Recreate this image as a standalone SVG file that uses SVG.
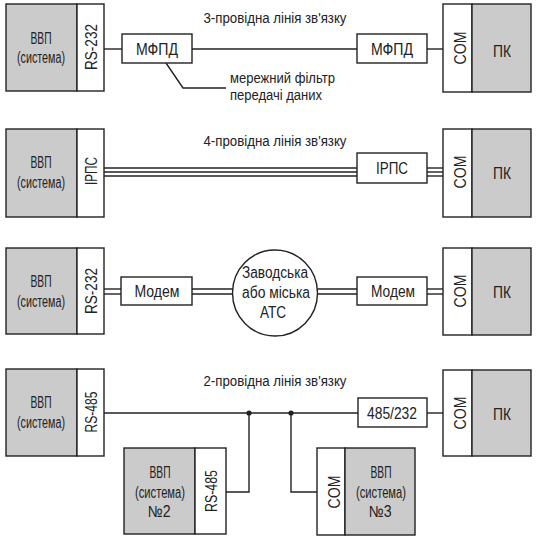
<svg xmlns="http://www.w3.org/2000/svg" width="538" height="542" viewBox="0 0 538 542">
<style>
.box{fill:#fff;stroke:#222;stroke-width:1.4}
.gray{fill:#cbcbcb;stroke:#222;stroke-width:1.4}
.ln{fill:none;stroke:#222;stroke-width:1.4}
text{font-family:"Liberation Sans",Arial,sans-serif;fill:#222;text-anchor:middle}
.t{font-size:16px}
.r{font-size:16px}
.v{font-size:17px}
.s{font-size:14px}
</style>
<rect width="538" height="542" fill="#fff"/>
<g id="connectors">
<line class="ln" x1="104" y1="49" x2="122" y2="49"/>
<line class="ln" x1="192" y1="49" x2="357" y2="49"/>
<line class="ln" x1="427" y1="49" x2="443" y2="49"/>
<polyline class="ln" points="166,63 183,88 226,88"/>
<g class="ln">
<line x1="104" y1="168" x2="357" y2="168"/><line x1="104" y1="172" x2="357" y2="172"/><line x1="104" y1="176" x2="357" y2="176"/>
<line x1="427" y1="168" x2="443" y2="168"/><line x1="427" y1="172" x2="443" y2="172"/><line x1="427" y1="176" x2="443" y2="176"/>
<line x1="104" y1="289" x2="121" y2="289"/><line x1="104" y1="294" x2="121" y2="294"/>
<line x1="192" y1="289" x2="233" y2="289"/><line x1="192" y1="294" x2="233" y2="294"/>
<line x1="317" y1="289" x2="357" y2="289"/><line x1="317" y1="294" x2="357" y2="294"/>
<line x1="427" y1="289" x2="443" y2="289"/><line x1="427" y1="294" x2="443" y2="294"/>
</g>
<line class="ln" x1="104" y1="413" x2="358" y2="413"/>
<line class="ln" x1="427" y1="413" x2="443" y2="413"/>
<polyline class="ln" points="249,413 249,492 226,492"/>
<polyline class="ln" points="291,413 291,492 317,492"/>
<circle cx="249" cy="413" r="2.6" fill="#222"/>
<circle cx="291" cy="413" r="2.6" fill="#222"/>
</g>
<g id="labels">
<text class="s" x="275" y="23" textLength="143" lengthAdjust="spacingAndGlyphs">3-провідна лінія зв'язку</text>
<text class="s" x="275" y="146" textLength="143" lengthAdjust="spacingAndGlyphs">4-провідна лінія зв'язку</text>
<text class="s" x="275" y="386" textLength="143" lengthAdjust="spacingAndGlyphs">2-провідна лінія зв'язку</text>
<text class="s" x="230" y="83" style="text-anchor:start" textLength="105" lengthAdjust="spacingAndGlyphs">мережний фільтр</text>
<text class="s" x="230" y="100" style="text-anchor:start" textLength="92" lengthAdjust="spacingAndGlyphs">передачі даних</text>
</g>
<g id="vvp1">
<rect class="gray" x="6" y="4" width="71" height="87"/><rect class="box" x="77" y="4" width="27" height="87"/>
<text class="t" x="41" y="44" textLength="21" lengthAdjust="spacingAndGlyphs">ВВП</text><text class="t" x="41" y="63" textLength="48" lengthAdjust="spacingAndGlyphs">(система)</text>
<text class="v" transform="translate(97,47) rotate(-90)" textLength="46" lengthAdjust="spacingAndGlyphs">RS-232</text>
</g>
<g id="mfpd1"><rect class="box" x="122" y="34" width="70" height="29"/><text class="r" x="157" y="55" textLength="42" lengthAdjust="spacingAndGlyphs">МФПД</text></g>
<g id="mfpd2"><rect class="box" x="357" y="34" width="70" height="29"/><text class="r" x="392" y="55" textLength="42" lengthAdjust="spacingAndGlyphs">МФПД</text></g>
<g id="pk1">
<rect class="box" x="443" y="4" width="29" height="88"/><rect class="gray" x="472" y="4" width="59" height="88"/>
<text class="r" transform="translate(466,48) rotate(-90)" textLength="33" lengthAdjust="spacingAndGlyphs">COM</text>
<text class="r" x="502" y="57" textLength="18" lengthAdjust="spacingAndGlyphs">ПК</text>
</g>
<g id="vvp2">
<rect class="gray" x="6" y="129" width="71" height="88"/><rect class="box" x="77" y="129" width="27" height="88"/>
<text class="t" x="41" y="168" textLength="21" lengthAdjust="spacingAndGlyphs">ВВП</text><text class="t" x="41" y="188" textLength="48" lengthAdjust="spacingAndGlyphs">(система)</text>
<text class="v" transform="translate(97,171) rotate(-90)" textLength="28" lengthAdjust="spacingAndGlyphs">ІРПС</text>
</g>
<g id="irps"><rect class="box" x="357" y="153" width="70" height="30"/><text class="r" x="392" y="174" textLength="32" lengthAdjust="spacingAndGlyphs">ІРПС</text></g>
<g id="pk2">
<rect class="box" x="443" y="129" width="29" height="88"/><rect class="gray" x="472" y="129" width="59" height="88"/>
<text class="r" transform="translate(466,172) rotate(-90)" textLength="33" lengthAdjust="spacingAndGlyphs">COM</text>
<text class="r" x="502" y="179" textLength="18" lengthAdjust="spacingAndGlyphs">ПК</text>
</g>
<g id="vvp3">
<rect class="gray" x="6" y="248" width="71" height="86"/><rect class="box" x="77" y="248" width="27" height="86"/>
<text class="t" x="41" y="287" textLength="21" lengthAdjust="spacingAndGlyphs">ВВП</text><text class="t" x="41" y="307" textLength="48" lengthAdjust="spacingAndGlyphs">(система)</text>
<text class="v" transform="translate(97,291) rotate(-90)" textLength="46" lengthAdjust="spacingAndGlyphs">RS-232</text>
</g>
<g id="modem1"><rect class="box" x="121" y="277" width="71" height="28"/><text class="r" x="157" y="297" textLength="45" lengthAdjust="spacingAndGlyphs">Модем</text></g>
<g id="ats">
<ellipse class="box" cx="275" cy="293" rx="42.5" ry="43"/>
<text class="r" x="275" y="278" textLength="66" lengthAdjust="spacingAndGlyphs">Заводська</text><text class="r" x="276" y="298" textLength="68" lengthAdjust="spacingAndGlyphs">або міська</text><text class="r" x="273" y="318" textLength="26" lengthAdjust="spacingAndGlyphs">АТС</text>
</g>
<g id="modem2"><rect class="box" x="357" y="277" width="70" height="28"/><text class="r" x="393" y="297" textLength="44" lengthAdjust="spacingAndGlyphs">Модем</text></g>
<g id="pk3">
<rect class="box" x="443" y="248" width="29" height="87"/><rect class="gray" x="472" y="248" width="59" height="87"/>
<text class="r" transform="translate(466,291) rotate(-90)" textLength="33" lengthAdjust="spacingAndGlyphs">COM</text>
<text class="r" x="502" y="298" textLength="18" lengthAdjust="spacingAndGlyphs">ПК</text>
</g>
<g id="vvp4">
<rect class="gray" x="6" y="369" width="71" height="87"/><rect class="box" x="77" y="369" width="27" height="87"/>
<text class="t" x="41" y="408" textLength="21" lengthAdjust="spacingAndGlyphs">ВВП</text><text class="t" x="41" y="428" textLength="48" lengthAdjust="spacingAndGlyphs">(система)</text>
<text class="v" transform="translate(97,412) rotate(-90)" textLength="41" lengthAdjust="spacingAndGlyphs">RS-485</text>
</g>
<g id="conv"><rect class="box" x="358" y="398" width="69" height="29"/><text class="r" x="392" y="419" textLength="50" lengthAdjust="spacingAndGlyphs">485/232</text></g>
<g id="pk4">
<rect class="box" x="443" y="370" width="29" height="86"/><rect class="gray" x="472" y="370" width="59" height="86"/>
<text class="r" transform="translate(466,413) rotate(-90)" textLength="33" lengthAdjust="spacingAndGlyphs">COM</text>
<text class="r" x="502" y="420" textLength="18" lengthAdjust="spacingAndGlyphs">ПК</text>
</g>
<g id="vvp-n2">
<rect class="gray" x="124" y="448" width="71" height="86"/><rect class="box" x="195" y="448" width="31" height="86"/>
<text class="t" x="160" y="478" textLength="21" lengthAdjust="spacingAndGlyphs">ВВП</text><text class="t" x="160" y="498" textLength="50" lengthAdjust="spacingAndGlyphs">(система)</text><text class="t" x="159" y="517" textLength="23" lengthAdjust="spacingAndGlyphs">№2</text>
<text class="v" transform="translate(217,491) rotate(-90)" textLength="42" lengthAdjust="spacingAndGlyphs">RS-485</text>
</g>
<g id="vvp-n3">
<rect class="box" x="317" y="448" width="28" height="87"/><rect class="gray" x="345" y="448" width="70" height="87"/>
<text class="r" transform="translate(340,492) rotate(-90)" textLength="33" lengthAdjust="spacingAndGlyphs">COM</text>
<text class="t" x="381" y="478" textLength="21" lengthAdjust="spacingAndGlyphs">ВВП</text><text class="t" x="381" y="498" textLength="50" lengthAdjust="spacingAndGlyphs">(система)</text><text class="t" x="380" y="517" textLength="23" lengthAdjust="spacingAndGlyphs">№3</text>
</g>
</svg>
